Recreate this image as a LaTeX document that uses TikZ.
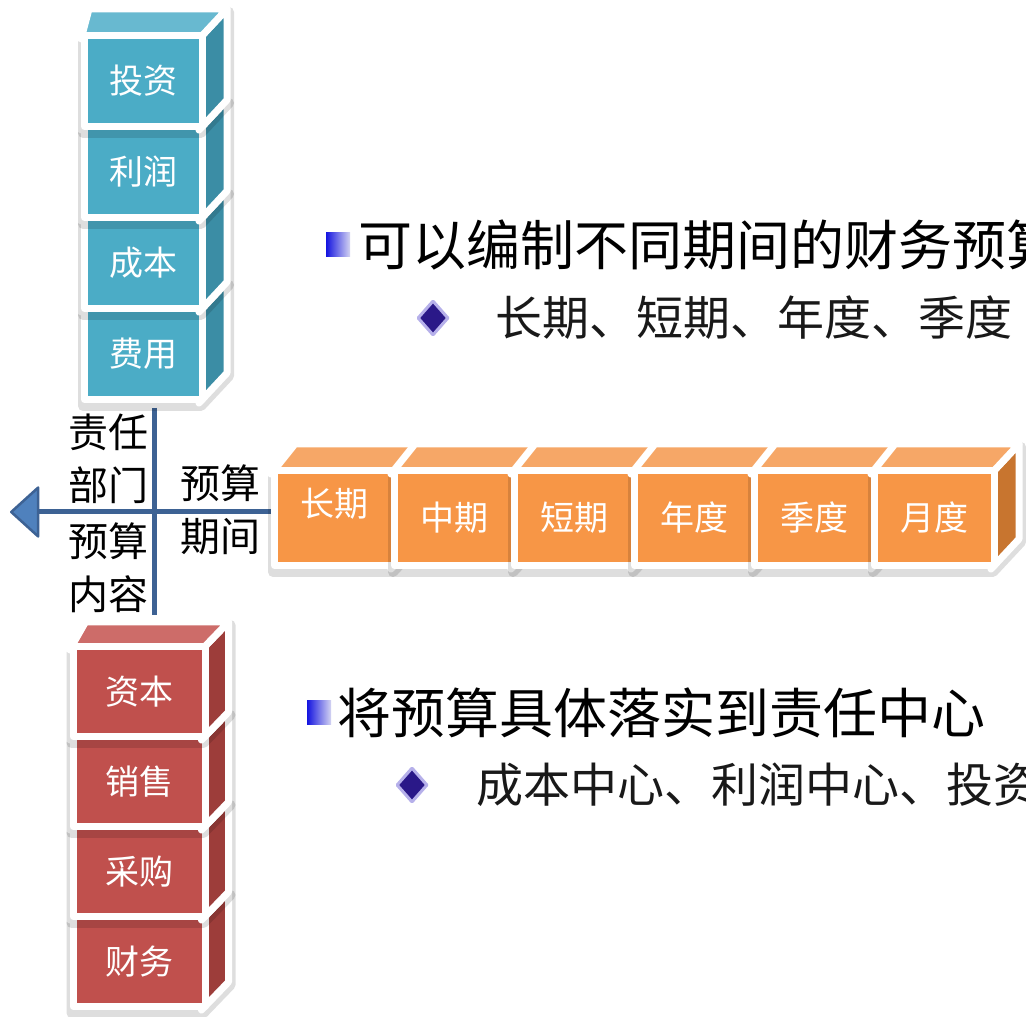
\documentclass[tikz,border=0pt]{standalone}
\usepackage{fontspec}
\newfontfamily\cjk{Noto Sans CJK SC}
\usetikzlibrary{arrows.meta,shapes.geometric}

\definecolor{blueF}{HTML}{4BACC6}
\definecolor{blueT}{HTML}{68B9D0}
\definecolor{blueS}{HTML}{3B8DA5}
\definecolor{orangeF}{HTML}{F79646}
\definecolor{orangeT}{HTML}{F6A767}
\definecolor{orangeS}{HTML}{C8752F}
\definecolor{redF}{HTML}{C0504D}
\definecolor{redT}{HTML}{CD6C69}
\definecolor{redS}{HTML}{9D3D3A}
\definecolor{axisblue}{HTML}{3D6294}
\definecolor{tipfill}{HTML}{4F81BD}
\definecolor{bulletdark}{HTML}{1414E0}
\definecolor{bulletlight}{HTML}{D4D4F2}
\definecolor{diamondfill}{HTML}{2A1888}
\definecolor{diamondedge}{HTML}{B6B0EA}

\tikzset{
  cubeface/.style={draw=white, line width=7bp, line join=round},
  cubeshadow/.style={draw=black, line width=10bp, line join=round, opacity=0.13, xshift=2bp, yshift=-3bp},
  bluefront/.style={cubeface, fill=blueF},
  bluetop/.style={cubeface, fill=blueT},
  blueside/.style={cubeface, fill=blueS},
  orangefront/.style={cubeface, fill=orangeF},
  orangetop/.style={cubeface, fill=orangeT},
  orangeside/.style={cubeface, fill=orangeS},
  redfront/.style={cubeface, fill=redF},
  redtop/.style={cubeface, fill=redT},
  redside/.style={cubeface, fill=redS},
  cubetext/.style={text=white, inner sep=0pt, font=\cjk\fontsize{34bp}{34bp}\selectfont},
  axisline/.style={draw=axisblue, line width=5bp},
  sidelabel/.style={align=center, inner sep=0pt, font=\cjk\fontsize{40bp}{53bp}\selectfont},
  headbullet/.style={minimum size=24bp, inner sep=0pt, left color=bulletdark, right color=bulletlight},
  subbullet/.style={diamond, minimum width=31bp, minimum height=35bp, inner sep=0pt,
    fill=diamondfill, draw=diamondedge, line width=3bp},
  headtext/.style={anchor=west, inner sep=0pt, font=\cjk\fontsize{54bp}{54bp}\selectfont},
  subtext/.style={anchor=west, inner sep=0pt, text=black!90, font=\cjk\fontsize{47bp}{47bp}\selectfont},
}

% one box: colour, x, y, name, text, text shift
\newcommand{\cubebox}[6]{%
  \draw[cubeshadow] ({#2},{#3}) -- ({#2+\cw},{#3}) -- ({#2+\cw+\cdr},{#3+\cdd}) -- ({#2+\cw+\cdr},{#3+\ch+\cdd}) -- ({#2+\cdl},{#3+\ch+\cdd}) -- ({#2},{#3+\ch}) -- cycle;
  \filldraw[#1side] ({#2+\cw},{#3}) -- ({#2+\cw+\cdr},{#3+\cdd}) -- ({#2+\cw+\cdr},{#3+\ch+\cdd}) -- ({#2+\cw},{#3+\ch}) -- cycle;
  \filldraw[#1top] ({#2},{#3+\ch}) -- ({#2+\cw},{#3+\ch}) -- ({#2+\cw+\cdr},{#3+\ch+\cdd}) -- ({#2+\cdl},{#3+\ch+\cdd}) -- cycle;
  \node[#1front, minimum width=\cw bp, minimum height=\ch bp, anchor=south west] (#4) at (#2,#3) {};
  \node[cubetext, yshift=#6] at (#4.center) {#5};
}

\begin{document}
\begin{tikzpicture}[x=1bp,y=1bp,>=latex,line join=bevel]
  \clip (0,0) rectangle (1026,1017);
  \fill[white] (0,0) rectangle (1026,1017);
%%
  \coordinate (vtop) at (154,609);
  \coordinate (vbot) at (154,402);
  \coordinate (hstart) at (272,505);
  \coordinate (htip) at (10,505);
  % Edge: vtop -- vbot
  \draw[axisline] (vtop) -- (vbot);
  % Edge: hstart -> htip
  \draw[axisline, -{Triangle[length=30bp, width=54bp, fill=tipfill, line width'=2.5bp, round]}] (hstart) -- (htip);
%%
  % Node: blue stack (bottom up)
\begin{scope}
  \def\cw{118}\def\ch{91}\def\cdl{8}\def\cdr{28}\def\cdd{30}
  \cubebox{blue}{81}{614}{feiyong}{费用}{0bp}
  \cubebox{blue}{81}{705}{chengben}{成本}{0bp}
  \cubebox{blue}{81}{796}{lirun}{利润}{0bp}
  \cubebox{blue}{81}{887}{touzi}{投资}{0bp}
\end{scope}
  % Node: orange row (left to right)
\begin{scope}
  \def\cw{120}\def\ch{95}\def\cdl{24}\def\cdr{28}\def\cdd{30}
  \cubebox{orange}{271}{448}{changqi}{长期}{14bp}
  \cubebox{orange}{391}{448}{zhongqi}{中期}{0bp}
  \cubebox{orange}{511}{448}{duanqi}{短期}{0bp}
  \cubebox{orange}{631}{448}{niandu}{年度}{0bp}
  \cubebox{orange}{751}{448}{jidu}{季度}{0bp}
  \cubebox{orange}{871}{448}{yuedu}{月度}{0bp}
\end{scope}
  % Node: red stack (bottom up)
\begin{scope}
  \def\cw{132}\def\ch{90}\def\cdl{16}\def\cdr{27}\def\cdd{28}
  \cubebox{red}{69.5}{7}{caiwu}{财务}{0bp}
  \cubebox{red}{69.5}{97}{caigou}{采购}{0bp}
  \cubebox{red}{69.5}{187}{xiaoshou}{销售}{0bp}
  \cubebox{red}{69.5}{277}{ziben}{资本}{0bp}
\end{scope}
%%
  % Node: axis labels
  \node[sidelabel] (dept) at (108,558.5) {责任\\部门};
  \node[sidelabel] (content) at (108,449.5) {预算\\内容};
  \node[sidelabel] (period) at (220,507) {预算\\期间};
%%
  % Node: first point
  \node[headbullet] (bulletA) at (338,772) {};
  \node[headtext] (headA) at (358,772) {可以编制不同期间的财务预算};
  \node[subbullet] (dotA) at (433,699) {};
  \node[subtext] (subA) at (495,699) {长期、短期、年度、季度};
  % Node: second point
  \node[headbullet] (bulletB) at (319,304) {};
  \node[headtext] (headB) at (337,304) {将预算具体落实到责任中心};
  \node[subbullet] (dotB) at (412,232) {};
  \node[subtext] (subB) at (476,232) {成本中心、利润中心、投资};
%
\end{tikzpicture}
\end{document}
